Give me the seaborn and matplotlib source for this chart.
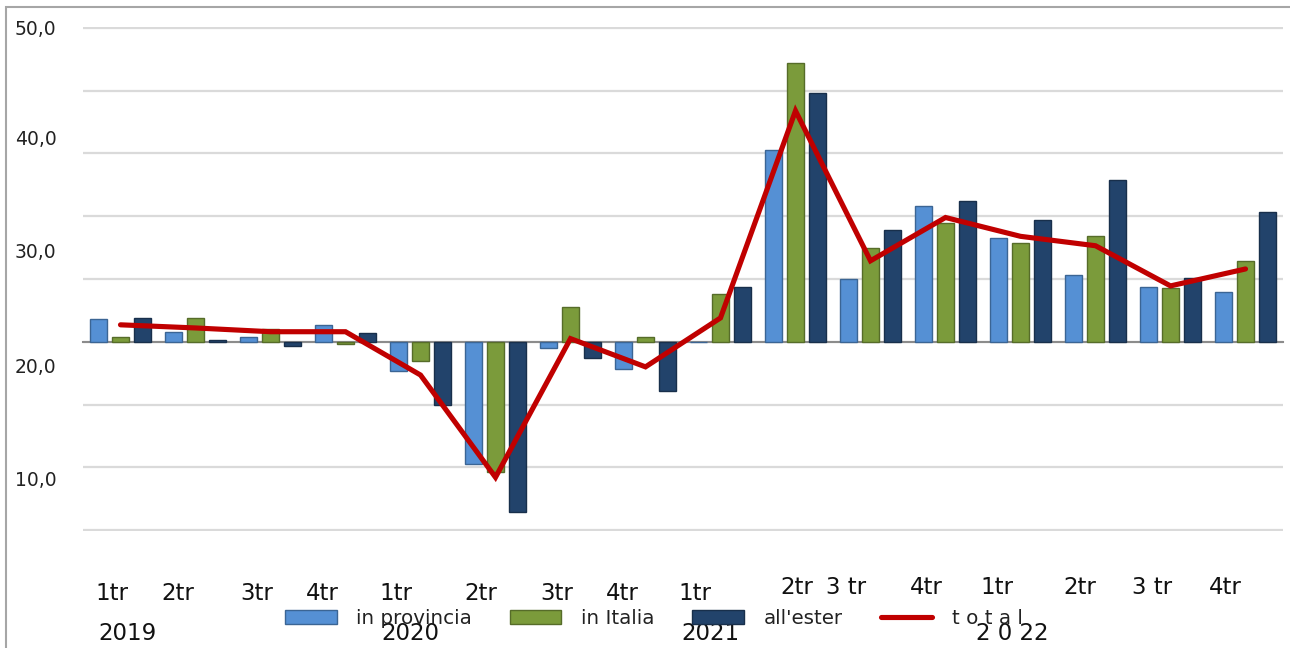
import numpy as np
import pandas as pd
import seaborn as sns
import matplotlib.pyplot as plt
from matplotlib.patches import Patch, Rectangle
from matplotlib.lines import Line2D
from matplotlib.colors import to_rgb

quarters = ['2019 1tr', '2019 2tr', '2019 3tr', '2019 4tr',
            '2020 1tr', '2020 2tr', '2020 3tr', '2020 4tr',
            '2021 1tr', '2021 2tr', '2021 3tr', '2021 4tr',
            '2022 1tr', '2022 2tr', '2022 3tr', '2022 4tr']
quarter_labels = ['1tr', '2tr', '3tr', '4tr', '1tr', '2tr', '3tr', '4tr',
                  '1tr', '2tr', '3 tr', '4tr', '1tr', '2tr', '3 tr', '4tr']
year_labels = ['2019', '2020', '2021', '2 0 22']

in_provincia = [1.8, 0.8, 0.4, 1.3, -2.3, -9.7, -0.5, -2.2, 0.0, 15.3, 5.0, 10.8, 8.3, 5.3, 4.4, 4.0]
in_italia = [0.4, 1.9, 1.0, -0.2, -1.5, -10.4, 2.8, 0.4, 3.8, 22.2, 7.5, 9.5, 7.9, 8.4, 4.3, 6.4]
all_ester = [1.9, 0.15, -0.3, 0.7, -5.0, -13.6, -1.3, -3.9, 4.4, 19.8, 8.9, 11.2, 9.7, 12.9, 5.1, 10.3]
total = [1.35, 1.1, 0.8, 0.8, -2.65, -10.8, 0.25, -2.0, 1.9, 18.4, 6.45, 9.9, 8.4, 7.65, 4.45, 5.8]

series_names = ['in provincia', 'in Italia', "all'ester"]
colors = ['#5590d4', '#7b9b3b', '#22436b']
red = '#c00000'

df = pd.DataFrame({'quarter': quarters * 3,
                   'serie': np.repeat(series_names, len(quarters)),
                   'valore': in_provincia + in_italia + all_ester})

sns.set_style('white')
plt.rcParams['font.family'] = ['DejaVu Sans']

fig = plt.figure(figsize=(12.9, 6.48), dpi=100)
# axes spans gridline -15 (y=530px) to 25 (y=28px), with a hair of margin
ax = fig.add_axes([83 / 1290, (648 - 531.3) / 648, 1200 / 1290, 504.6 / 648])

sns.barplot(data=df, x='quarter', y='valore', hue='serie', order=quarters,
            hue_order=series_names, palette=colors, width=0.88, gap=0.27,
            saturation=1, legend=False, ax=ax, zorder=3)
for bar in ax.patches:
    fc = np.array(to_rgb(bar.get_facecolor()))
    bar.set_edgecolor(fc * 0.7)
    bar.set_linewidth(1.0)

sns.lineplot(x=np.arange(len(quarters)), y=total, color=red, lw=3.7, ax=ax,
             zorder=4, solid_joinstyle='miter')

ax.set_xlim(-0.5, 15.5)
ax.set_ylim(-15.1, 25.1)
ax.set_xlabel('')
ax.set_ylabel('')

# grid and y labels (labels sit off the gridlines, as in the original)
ax.yaxis.remove_overlapping_locs = False
ax.set_yticks(np.arange(-15, 26, 5))
ax.set_yticklabels([])
ax.yaxis.grid(True, color='#dadada', lw=1.6)
ax.set_axisbelow(True)
ax.set_yticks([25, 16.3, 7.3, -1.9, -10.9], minor=True)
ax.set_yticklabels(['50,0', '40,0', '30,0', '20,0', '10,0'], minor=True)
ax.tick_params(axis='y', which='both', length=0, pad=19, labelsize=13.5,
               labelcolor='#222222')

# baseline at zero with category boundary ticks
for s in ['top', 'right', 'left']:
    ax.spines[s].set_visible(False)
ax.spines['bottom'].set_position(('data', 0))
ax.spines['bottom'].set_color('#8c8c8c')
ax.spines['bottom'].set_linewidth(1.5)
ax.set_xticks(np.arange(-0.5, 16, 1))
ax.set_xticklabels([])
ax.tick_params(axis='x', direction='out', length=4, width=1.5, color='#8c8c8c')

# quarter and year labels
q_pos = [-0.11, 0.77, 1.81, 2.69, 3.67, 4.81, 5.81, 6.69, 7.66, 9.02, 9.67,
         10.74, 11.69, 12.79, 13.75, 14.73]
q_ypx = [593] * 9 + [587, 587] + [588] * 5
ax_bottom_px = 531.3
ax_height_px = 504.6
xt = ax.get_xaxis_transform()
for lab, xp, yp in zip(quarter_labels, q_pos, q_ypx):
    ax.text(xp, (ax_bottom_px - yp) / ax_height_px, lab, transform=xt,
            ha='center', va='center', fontsize=16.5, color='#111111')
for lab, xp in zip(year_labels, [0.09, 3.86, 7.86, 11.89]):
    ax.text(xp, (ax_bottom_px - 634) / ax_height_px, lab, transform=xt,
            ha='center', va='center', fontsize=16.5, color='#111111')

handles = [Patch(facecolor=c, edgecolor=np.array(to_rgb(c)) * 0.7) for c in colors]
handles.append(Line2D([0], [0], color=red, lw=3.7))
fig.legend(handles, series_names + ['t o t a l'], loc='center', ncol=4,
           bbox_to_anchor=(0.507, (648 - 618) / 648), frameon=False,
           fontsize=14.3, handlelength=2.6, handletextpad=1.0,
           columnspacing=1.9, labelcolor='#222222')

fig.add_artist(Rectangle((6 / 1290, -0.1), 1.2, 1.1 - 7 / 648, fill=False,
                         edgecolor='#a6a6a6', lw=1.5, transform=fig.transFigure))

fig.savefig('out.png', dpi=100)
